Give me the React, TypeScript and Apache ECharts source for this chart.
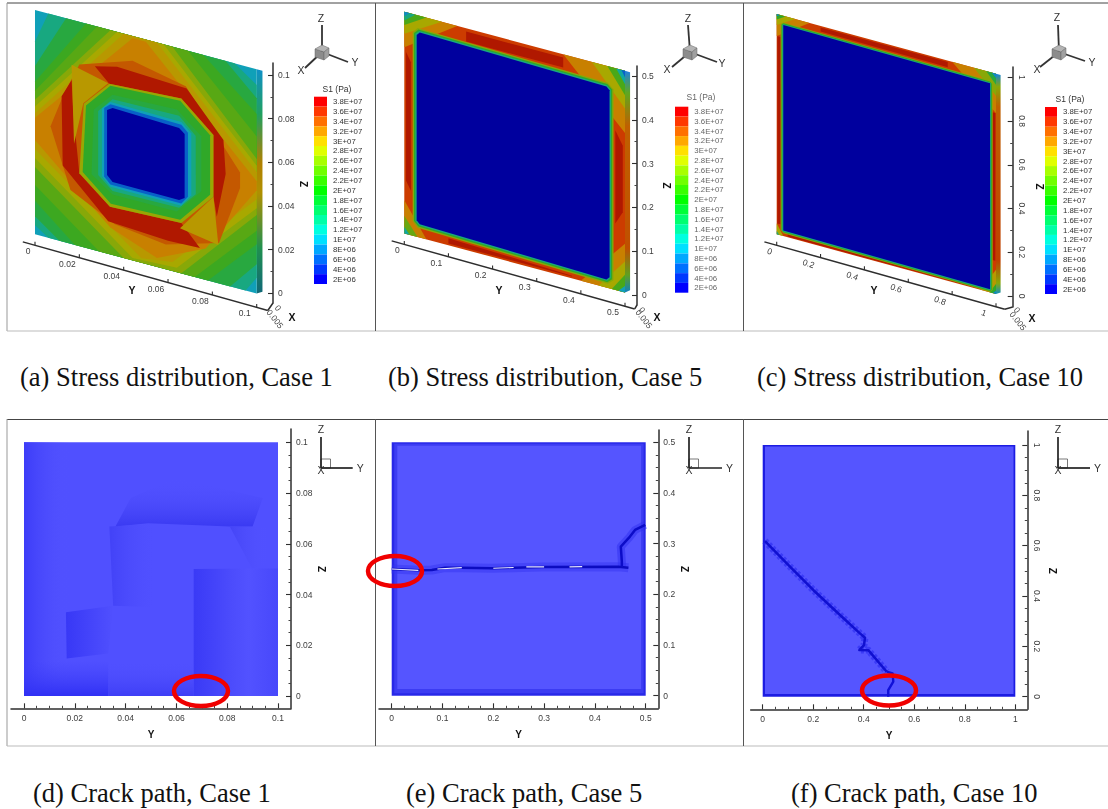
import React, { useEffect, useRef } from "react";
import * as echarts from "echarts";

type Pt = number[];
const SANS = "Liberation Sans";

// ---- S1 colour scale -------------------------------------------------------
const s1Levels = [38, 36, 34, 32, 30, 28, 26, 24, 22, 20, 18, 16, 14, 12, 10, 8, 6, 4, 2];
const s1Labels = ["3.8E+07", "3.6E+07", "3.4E+07", "3.2E+07", "3E+07", "2.8E+07", "2.6E+07", "2.4E+07", "2.2E+07", "2E+07", "1.8E+07", "1.6E+07", "1.4E+07", "1.2E+07", "1E+07", "8E+06", "6E+06", "4E+06", "2E+06"];
const legendColors = ["#ff0000", "#ff3800", "#ff7000", "#ffa800", "#ffe000", "#e0ff00", "#a8ff00", "#70ff00", "#38ff00", "#00ff00", "#00ff38", "#00ff70", "#00ffa8", "#00ffe0", "#00e0ff", "#00a8ff", "#0070ff", "#0038ff", "#0000ff"];
const plateShades: Record<number, string> = {
  2: "#00009e", 4: "#0030c0", 6: "#0860c8", 8: "#1088c8", 10: "#10a0b8", 12: "#10a8a0", 14: "#18a880", 16: "#20a860", 18: "#28a840", 20: "#30a828", 21: "#3ca820", 22: "#4aa818", 23: "#58a814", 24: "#68a810", 26: "#88a808", 27: "#98a804", 28: "#a8a800", 30: "#b89800", 32: "#c88000", 34: "#c86800", 35: "#c45800", 36: "#cc3c00", 38: "#b01800",
};

// ---- Panel (a) contour bands, Y and Z in metres, S1 in 1E6 Pa ---------------
const stressA = [10, 14, 18, 21, 23, 26, 28, 30, 32, 35, 38, 38, 30, 30, 27, 20, 18, 14, 10, 6, 2];
const bandsA: Pt[][] = [
  [[0, 0], [.1, 0], [.1, .1], [0, .1]],
  [[0, .086], [.006, .1], [.09, .1], [.1, .093], [.1, .007], [.095, 0], [.006, 0], [0, .004]],
  [[0, .075], [.014, .1], [.086, .1], [.1, .087], [.1, .013], [.088, 0], [.011, 0], [0, .008]],
  [[0, .068], [.023, .1], [.076, .1], [.1, .08], [.1, .022], [.078, 0], [.018, 0], [0, .015]],
  [[0, .064], [.028, .1], [.069, .1], [.1, .07], [.1, .028], [.072, 0], [.029, 0], [0, .022]],
  [[0, .06], [.034, .1], [.062, .1], [.1, .06], [.1, .035], [.066, 0], [.04, 0], [0, .03]],
  [[0, .057], [.037, .1], [.058, .1], [.1, .057], [.1, .038], [.064, .002], [.044, .001], [0, .034]],
  [[0, .054], [.04, .1], [.055, .1], [.1, .054], [.1, .042], [.062, .004], [.048, .002], [0, .038]],
  [[0, .052], [.044, .099], [.05, .099], [.1, .05], [.1, .046], [.077, .014], [.055, .004], [.034, .012], [0, .042]],
  [[.02, .081], [.044, .089], [.068, .084], [.0925, .052], [.0925, .045], [.083, .018], [.059, .011], [.036, .014], [.016, .024], [.007, .05], [.013, .066]],
  [[.027, .082], [.037, .0845], [.0684, .083], [.085, .0645], [.086, .0496], [.082, .0295], [.0805, .038], [.0805, .0655], [.066, .078], [.0335, .076]],
  [[.0165, .073], [.0173, .0585], [.02, .0325], [.0338, .0212], [.066, .0224], [.0744, .0135], [.06, .013], [.033, .0145], [.0125, .034], [.012, .0647]],
  [[.0165, .08], [.033, .076], [.0218, .0642], [.0176, .045]],
  [[.0654, .02], [.0805, .038], [.0827, .017]],
  [[.022, .064], [.0335, .076], [.066, .078], [.0805, .0655], [.0805, .038], [.066, .0224], [.0338, .0212], [.02, .0325]],
  [[.023, .0635], [.034, .0752], [.0655, .0768], [.079, .065], [.079, .0385], [.0655, .0238], [.0342, .0226], [.0215, .0335]],
  [[.0265, .0625], [.035, .0715], [.064, .0725], [.075, .0635], [.075, .039], [.064, .027], [.035, .027], [.0255, .0335]],
  [[.0285, .0625], [.035, .0695], [.065, .07], [.0725, .063], [.0725, .037], [.065, .029], [.035, .0285], [.0285, .034]],
  [[.0302, .064], [.034, .068], [.066, .0675], [.0705, .0635], [.0705, .036], [.066, .0302], [.034, .0302], [.0302, .034]],
  [[.0312, .0645], [.034, .067], [.066, .0663], [.069, .0635], [.069, .035], [.066, .0312], [.034, .0312], [.0312, .034]],
  [[.0325, .064], [.035, .0655], [.065, .0645], [.0675, .0625], [.0675, .034], [.065, .0325], [.035, .0325], [.0325, .035]],
];
const sideA: Pt[] = [[.1, .1], [.1026, .1], [.1026, .0015], [.1, 0]];

// ---- Panel (b) ----------------------------------------------------------------
const stressB = [36, 38, 38, 38, 38, 32, 28, 22, 14, 8, 32, 28, 22, 12, 6, 32, 28, 22, 10, 32, 24, 12, 26, 20, 14, 2];
const bandsB: Pt[][] = [
  [[0, 0], [.5, 0], [.5, .5], [0, .5]],
  [[.14, .4925], [.36, .4925], [.36, .47], [.14, .47]],
  [[.004, .41], [.015, .39], [.015, .1], [.004, .12]],
  [[.478, .36], [.495, .33], [.495, .18], [.478, .15]],
  [[.1, .004], [.38, .004], [.38, .006], [.1, .016]],
  [[0, .5], [.12, .5], [0, .42]],
  [[0, .5], [.085, .5], [0, .45]],
  [[0, .5], [.05, .5], [0, .47]],
  [[0, .5], [.025, .5], [0, .48]],
  [[0, .5], [.012, .5], [0, .49]],
  [[.5, .5], [.36, .5], [.5, .36]],
  [[.5, .5], [.425, .5], [.5, .415]],
  [[.5, .5], [.46, .5], [.5, .445]],
  [[.5, .5], [.48, .5], [.5, .47]],
  [[.5, .5], [.492, .5], [.5, .485]],
  [[.5, 0], [.4, 0], [.5, .11]],
  [[.5, 0], [.44, 0], [.5, .07]],
  [[.5, 0], [.47, 0], [.5, .04]],
  [[.5, 0], [.485, 0], [.5, .015]],
  [[0, 0], [.05, 0], [0, .075]],
  [[0, 0], [.03, 0], [0, .04]],
  [[0, 0], [.012, 0], [0, .015]],
  [[.019, .459], [.03, .4715], [.461, .4625], [.474, .451], [.474, .021], [.461, .0095], [.03, .021], [.019, .033]],
  [[.022, .458], [.032, .4685], [.46, .4595], [.471, .45], [.471, .022], [.46, .0125], [.032, .024], [.022, .034]],
  [[.025, .457], [.034, .4655], [.459, .4565], [.468, .449], [.468, .024], [.459, .0155], [.034, .027], [.025, .035]],
  [[.028, .455], [.035, .4625], [.458, .4535], [.465, .447], [.465, .025], [.458, .0185], [.035, .03], [.028, .037]],
];
const sideB: Pt[] = [[.5, .5], [.5115, .5], [.5115, .008], [.5, 0]];

// ---- Panel (c) ----------------------------------------------------------------
const stressC = [36, 38, 38, 38, 38, 32, 28, 20, 8, 32, 26, 18, 8, 30, 20, 8, 28, 14, 26, 20, 14, 2];
const bandsC: Pt[][] = [
  [[0, 0], [1, 0], [1, 1], [0, 1]],
  [[.2, .993], [.78, .993], [.78, .97], [.2, .975]],
  [[.003, .9], [.018, .9], [.018, .05], [.003, .05]],
  [[.983, .82], [.997, .82], [.997, .15], [.983, .15]],
  [[.05, .003], [.9, .003], [.9, .004], [.05, .016]],
  [[0, 1], [.15, 1], [0, .9]],
  [[0, 1], [.085, 1], [0, .95]],
  [[0, 1], [.04, 1], [0, .975]],
  [[0, 1], [.015, 1], [0, .99]],
  [[1, 1], [.8, 1], [1, .82]],
  [[1, 1], [.9, 1], [1, .9]],
  [[1, 1], [.955, 1], [1, .95]],
  [[1, 1], [.98, 1], [1, .98]],
  [[1, 0], [.93, 0], [1, .11]],
  [[1, 0], [.97, 0], [1, .045]],
  [[1, 0], [.985, 0], [1, .015]],
  [[0, 0], [.03, 0], [0, .05]],
  [[0, 0], [.012, 0], [0, .015]],
  [[.018, .958], [.03, .97], [.973, .961], [.985, .949], [.985, .014], [.973, .003], [.03, .013], [.018, .025]],
  [[.022, .958], [.03, .966], [.973, .957], [.981, .949], [.981, .014], [.973, .006], [.03, .017], [.022, .025]],
  [[.026, .958], [.03, .962], [.973, .953], [.977, .949], [.977, .014], [.973, .01], [.03, .021], [.026, .025]],
  [[.03, .958], [.973, .949], [.973, .014], [.03, .025]],
];
const sideC: Pt[] = [[1, 1], [1.021, 1], [1.021, .012], [1, 0]];

// ---- Axis ticks ---------------------------------------------------------------
const yTicksA = ["0", "0.02", "0.04", "0.06", "0.08", "0.1"];
const yTicksB = ["0", "0.1", "0.2", "0.3", "0.4", "0.5"];
const yTicksC = ["0", "0.2", "0.4", "0.6", "0.8", "1"];

// ---- Panel (d) damage field patches -------------------------------------------
const patchesD: Pt[][] = [
  [[0, 0], [.018, 0], [.018, .1], [0, .1]],
  [[0, 0], [.0332, 0], [.0332, .014], [0, .014]],
  [[.036, .0668], [.0489, .0681], [.081, .0668], [.09, .0668], [.094, .078], [.06, .086], [.042, .078]],
  [[.081, .0668], [.0898, .0503], [.096, .052], [.096, .0668]],
  [[.0336, .0668], [.052, .068], [.052, .035], [.0351, .0356]],
  [[.0668, .0501], [.0898, .0503], [.1, .0503], [.1, 0], [.0668, 0]],
  [[.0165, .033], [.0351, .0356], [.0332, .0168], [.0168, .0148]],
  [[.0332, 0], [.0668, 0], [.0668, .014], [.0332, .014]],
];
const patchDirD = [[0, 0, 1, 0], [0, 1, 0, 0], [0, 1, 0, 0], [0, 0, 1, 0], [0, 0, 1, 0], [0, 0, 1, 0], [0, 0, 1, 0], [0, 1, 0, 0]];
const patchStopsD = [
  [[0, "#3c3cf8"], [1, "rgba(84,84,255,0)"]],
  [[0, "#3030f4"], [1, "rgba(64,64,250,0)"]],
  [[0, "#3a3af2"], [1, "rgba(84,84,255,0)"]],
  [[0, "#4444f6"], [1, "rgba(84,84,255,0)"]],
  [[0, "#4242f7"], [1, "rgba(80,80,255,0)"]],
  [[0, "#3a3af6"], [.45, "#4c4cfc"], [.65, "#5252ff"], [1, "#4848fb"]],
  [[0, "#3838f6"], [1, "#5050fe"]],
  [[0, "#3e3ef6"], [1, "rgba(80,80,255,0)"]],
];

// ---- Panel (e) and (f) frames and cracks --------------------------------------
const frameE: Pt[][] = [
  [[0, 0], [.5, 0], [.5, .5], [0, .5]],
  [[.005, .005], [.496, .005], [.496, .497], [.005, .497]],
  [[.011, .013], [.491, .013], [.491, .493], [.011, .493]],
];
const frameF: Pt[][] = [
  [[0, 0], [1, 0], [1, 1], [0, 1]],
  [[.009, .011], [.993, .011], [.993, .994], [.009, .994]],
];
const frameShadesE = ["#2828e8", "#3c3cf2", "#5555ff"];
const frameShadesF = ["#1c1ce2", "#5555ff"];
const crackE: Pt[] = [[0, .25], [.0525, .2474], [.079, .248], [.105, .2526], [.138, .2526], [.197, .2513], [.295, .254], [.446, .2546], [.466, .2526]];
const branchE: Pt[] = [[.453, .2546], [.453, .2645], [.451, .294], [.469, .314], [.479, .327], [.499, .337]];
const openingsE: Pt[][] = [
  [[0, .25], [.0525, .2474]],
  [[.09, .25], [.138, .2526]],
  [[.2, .2515], [.24, .253]],
  [[.265, .254], [.3, .254]],
  [[.35, .254], [.375, .2545]],
];
const crackF: Pt[] = [[.009, .6185], [.108, .5166], [.2, .424], [.306, .3245], [.385, .2517], [.405, .2344], [.401, .205], [.3826, .1854], [.418, .185], [.491, .0993]];
const tailF: Pt[] = [[.491, .0993], [.5145, .0927], [.517, .06], [.497, .0265], [.497, 0]];

// ---- Captions -----------------------------------------------------------------
const captions = [
  "(a) Stress distribution, Case 1", "(b) Stress distribution, Case 5", "(c) Stress distribution, Case 10",
  "(d) Crack path, Case 1", "(e) Crack path, Case 5", "(f) Crack path, Case 10",
];

const grids: any[] = [];
const xAxes: any[] = [];
const yAxes: any[] = [];
const series: any[] = [];
const graphics: any[] = [];

function rectOf(l: number, t: number, r: number, b: number) {
  return { left: l, top: t, width: r - l, height: b - t, containLabel: false };
}
function hiddenAxis(min: number, max: number) {
  return { type: "value", show: false, min, max, axisLine: { show: false, onZero: false }, splitLine: { show: false } };
}
function addHiddenGrid(l: number, t: number, r: number, b: number, xMax: number, yMax: number) {
  grids.push(rectOf(l, t, r, b));
  const i = grids.length - 1;
  xAxes.push({ ...hiddenAxis(0, xMax), gridIndex: i });
  yAxes.push({ ...hiddenAxis(0, yMax), gridIndex: i });
  return i;
}
const lineStyle = { color: "#2e2e2e", width: 1.5 };

function addAxisLines(l: number, t: number, r: number, b: number, withX: boolean) {
  grids.push(rectOf(l, t, r, b));
  const i = grids.length - 1;
  const bare = { min: 0, max: 1, type: "value", gridIndex: i, axisTick: { show: false }, axisLabel: { show: false }, splitLine: { show: false } };
  xAxes.push({ ...bare, show: withX, position: "bottom", axisLine: { show: withX, onZero: false, lineStyle } });
  yAxes.push({ ...bare, show: true, position: "right", axisLine: { show: true, onZero: false, lineStyle } });
}

function tickedAxis(max: number, interval: number, split: number, rotate: number) {
  return {
    type: "value", min: 0, max, interval,
    axisLine: { show: false, onZero: false },
    axisTick: { show: true, inside: true, length: 5, lineStyle: { color: "#2e2e2e", width: 1.1 } },
    minorTick: { show: true, splitNumber: split, length: 2.5, lineStyle: { color: "#444", width: 1 } },
    splitLine: { show: false },
    minorSplitLine: { show: false },
    axisLabel: { color: "#3c3c3c", fontSize: 8.5, fontFamily: SANS, margin: 5, rotate, formatter: (v: number) => String(+v.toFixed(3)) },
    nameTextStyle: { color: "#111", fontSize: 10, fontWeight: "bold", fontFamily: SANS },
  };
}

function polySeries(gridIdx: number, polys: Pt[][], fill: (i: number) => any, project?: (api: any, p: Pt) => number[]) {
  series.push({
    type: "custom", coordinateSystem: "cartesian2d", xAxisIndex: gridIdx, yAxisIndex: gridIdx, silent: true, clip: false,
    data: polys.map((_, i) => [i]),
    renderItem: (params: any, api: any) => {
      const pts = polys[params.dataIndex].map((p) => (project ? project(api, p) : api.coord(p)));
      return { type: "polygon", shape: { points: pts }, style: { fill: fill(params.dataIndex) } };
    },
  });
}

function lineSeries(gridIdx: number, data: Pt[], color: string, width: number, opacity = 1, dash?: any) {
  series.push({
    type: "line", xAxisIndex: gridIdx, yAxisIndex: gridIdx, data, showSymbol: false, symbol: "none", silent: true,
    lineStyle: { color, width, opacity, type: dash || "solid", cap: "butt", join: "round" },
  });
}

function addLegend(l: number, t: number, r: number, b: number, titleX: number, titleY: number, labelColor: string) {
  grids.push(rectOf(l, t, r, b));
  const i = grids.length - 1;
  xAxes.push({ ...hiddenAxis(0, 1), gridIndex: i });
  yAxes.push({
    type: "category", gridIndex: i, position: "right", inverse: true, data: s1Labels,
    axisLine: { show: false, onZero: false }, axisTick: { show: false }, splitLine: { show: false },
    axisLabel: { interval: 0, color: labelColor, fontSize: 7.8, fontFamily: SANS, margin: 6 },
  });
  series.push({
    type: "bar", xAxisIndex: i, yAxisIndex: i, barWidth: "100%", silent: true,
    data: s1Levels.map((s, k) => ({ value: 1, name: String(s), itemStyle: { color: legendColors[k] } })),
  });
  graphics.push({ type: "text", x: titleX, y: titleY, style: { text: "S1 (Pa)", fill: labelColor, font: `8.5px "${SANS}"`, align: "center", verticalAlign: "middle" } });
}

function addTopPanel(cfg: any) {
  const { left, right, top, bottom, k, yMax, zMax, bands, stress, side, sideStops, yTicks, labelRot, axisX, axisY0, axisY1, axisTop, axisBot, interval, zRot, yStart, yEnd } = cfg;
  const g = addHiddenGrid(left, top, right, bottom, yMax, zMax);
  const project = (api: any, p: Pt) => {
    const c = api.coord(p);
    return [c[0], c[1] + k * (c[0] - left)];
  };
  polySeries(g, [side], () => new echarts.graphic.LinearGradient(0, 0, 0, 1, sideStops.map((s: any) => ({ offset: s[0], color: s[1] }))), project);
  polySeries(g, bands, (i) => plateShades[stress[i]], project);

  // sheared Y axis, drawn from its tick values
  const skew = (api: any, y: number, up: number) => {
    const c = api.coord([y, 0]);
    return [c[0], c[1] + 11 + 0.28 * (c[0] - left) - up];
  };
  series.push({
    type: "custom", coordinateSystem: "cartesian2d", xAxisIndex: g, yAxisIndex: g, silent: true, clip: false,
    data: yTicks.map((t: string) => [Number(t), 0]),
    renderItem: (params: any, api: any) => {
      const v = Number(yTicks[params.dataIndex]);
      const a = skew(api, v, 0);
      const b = skew(api, v, 3.5);
      const children: any[] = [
        { type: "line", shape: { x1: a[0], y1: a[1], x2: b[0], y2: b[1] }, style: { stroke: "#2e2e2e", lineWidth: 1.1 } },
        { type: "text", x: a[0] - (params.dataIndex === 0 ? 7 : 12), y: a[1] + 6, rotation: labelRot, style: { text: yTicks[params.dataIndex], fill: "#3c3c3c", font: `8.5px "${SANS}"`, align: "center", verticalAlign: "middle" } },
      ];
      if (params.dataIndex === 0) {
        const s = skew(api, yStart, 0);
        const e = skew(api, yEnd, 0);
        children.push({ type: "line", shape: { x1: s[0], y1: s[1], x2: e[0], y2: e[1] }, style: { stroke: "#2e2e2e", lineWidth: 1.5 } });
        children.push({ type: "line", shape: { x1: e[0], y1: e[1], x2: axisX, y2: axisBot }, style: { stroke: "#2e2e2e", lineWidth: 1.5 } });
      }
      return { type: "group", children };
    },
  });

  // Z axis
  addAxisLines(left, axisTop, axisX, axisBot, false);
  grids.push(rectOf(left, axisY1, axisX, axisY0));
  const z = grids.length - 1;
  xAxes.push({ ...hiddenAxis(0, 1), gridIndex: z });
  yAxes.push({ ...tickedAxis(zMax, interval, 2, zRot), gridIndex: z, position: "right", name: "Z", nameLocation: "middle", nameGap: cfg.zGap, nameRotate: -90 });
}

function addBottomPanel(cfg: any) {
  const { l, r, t, b, ol, ot, or, ob, max, interval, zRot } = cfg;
  grids.push(rectOf(l, t, r, b));
  const i = grids.length - 1;
  xAxes.push({ ...tickedAxis(max, interval, 4, 0), gridIndex: i, position: "bottom", offset: ob - b, name: "Y", nameLocation: "middle", nameGap: 21 });
  yAxes.push({ ...tickedAxis(max, interval, 4, zRot), gridIndex: i, position: "right", offset: or - r, name: "Z", nameLocation: "middle", nameGap: 20, nameRotate: -90 });
  addAxisLines(ol, ot, or, ob, true);
  return i;
}

function triad3D(cx: number, cy: number, z: number[], y: number[], x: number[], zL: number[], yL: number[], xL: number[]) {
  const ln = (a: number[]) => ({ type: "line", shape: { x1: cx, y1: cy, x2: a[0], y2: a[1] }, style: { stroke: "#333", lineWidth: 1.8 } });
  const tx = (s: string, p: number[]) => ({ type: "text", x: p[0], y: p[1], style: { text: s, fill: "#333", font: `10.5px "${SANS}"`, align: "center", verticalAlign: "middle" } });
  graphics.push(ln(z), ln(y), ln(x), tx("Z", zL), tx("Y", yL), tx("X", xL));
  const poly = (pts: number[][], fill: string) => ({ type: "polygon", shape: { points: pts.map((p) => [cx + p[0], cy + p[1]]) }, style: { fill, stroke: "#666", lineWidth: 0.5 } });
  graphics.push(
    poly([[-7, -3], [2, 0], [2, 8], [-7, 5]], "#8c8c8c"),
    poly([[-7, -3], [0, -7], [7, -4], [2, 0]], "#b4b4b4"),
    poly([[2, 0], [7, -4], [7, 4], [2, 8]], "#a0a0a0"),
  );
}

function triad2D(cx: number, cy: number, yEnd: number) {
  const ln = (x2: number, y2: number) => ({ type: "line", shape: { x1: cx, y1: cy, x2, y2 }, style: { stroke: "#222", lineWidth: 1.7 } });
  const tx = (s: string, x: number, y: number) => ({ type: "text", x, y, style: { text: s, fill: "#333", font: `10.5px "${SANS}"`, align: "center", verticalAlign: "middle" } });
  graphics.push(
    { type: "rect", shape: { x: cx, y: cy - 9, width: 9.5, height: 9 }, style: { fill: "#fff", stroke: "#555", lineWidth: 0.8 } },
    ln(cx, 437), ln(yEnd, cy), tx("Z", cx, 429), tx("Y", yEnd + 7.5, cy), tx("X", cx, cy + 2),
  );
}

function xStub(zero: number[], five: number[], x: number[], yTitle: number[]) {
  const t = (s: string, p: number[], font: string, rot: number, fill: string) => ({ type: "text", x: p[0], y: p[1], rotation: rot, style: { text: s, fill, font, align: "center", verticalAlign: "middle" } });
  graphics.push(
    t("0", zero, `8.5px "${SANS}"`, -0.9, "#3c3c3c"),
    t("0.005", five, `8.5px "${SANS}"`, -0.9, "#3c3c3c"),
    t("X", x, `bold 10.5px "${SANS}"`, 0, "#111"),
    t("Y", yTitle, `bold 10.5px "${SANS}"`, 0, "#111"),
  );
}

// ---- Build panels ---------------------------------------------------------------
addTopPanel({
  left: 35, right: 256.7, top: 10, bottom: 234.3, k: .267, yMax: .1, zMax: .1, bands: bandsA, stress: stressA, side: sideA,
  sideStops: [[0, "#1090c8"], [.2, "#20a060"], [.42, "#b08000"], [.55, "#b09000"], [.8, "#209050"], [1, "#106878"]],
  yTicks: yTicksA, labelRot: 0, axisX: 273, axisY0: 293.3, axisY1: 75, axisTop: 63, axisBot: 303, interval: .02, zRot: 0, yStart: -.0055, yEnd: .105, zGap: 23,
});
addLegend(314, 96.7, 327, 284, 337, 89, "#333");
triad3D(322, 52, [322, 25], [348, 62], [305, 68], [321, 18], [355, 62], [301, 70]);
xStub([278, 308], [275, 319], [292, 317], [132, 290]);

addTopPanel({
  left: 404.3, right: 625, top: 11.7, bottom: 233.4, k: .268, yMax: .5, zMax: .5, bands: bandsB, stress: stressB, side: sideB,
  sideStops: [[0, "#2080e0"], [.1, "#60a820"], [.25, "#c06000"], [.8, "#c05000"], [.92, "#60a020"], [1, "#1080c0"]],
  yTicks: yTicksB, labelRot: 0, axisX: 637, axisY0: 295, axisY1: 76, axisTop: 66, axisBot: 305, interval: .1, zRot: 0, yStart: -.0286, yEnd: .522, zGap: 24,
});
addLegend(675, 106.7, 688.3, 292.7, 701, 97, "#666");
triad3D(690, 52, [688, 25], [717, 62], [672, 67], [688, 18], [722, 63], [667, 69]);
xStub([642, 310], [644, 319], [657, 317], [499, 290]);

addTopPanel({
  left: 776.7, right: 996, top: 14, bottom: 234.3, k: .272, yMax: 1, zMax: 1, bands: bandsC, stress: stressC, side: sideC,
  sideStops: [[0, "#1080e0"], [.06, "#88a808"], [.15, "#c06000"], [.85, "#c04000"], [.95, "#88a808"], [1, "#1090c0"]],
  yTicks: yTicksC, labelRot: -.35, axisX: 1012.7, axisY0: 296, axisY1: 77.3, axisTop: 67, axisBot: 307, interval: .2, zRot: -90, yStart: -.056, yEnd: 1.04, zGap: 22,
});
addLegend(1045, 107, 1057, 294, 1070, 99, "#333");
triad3D(1059, 52, [1058, 25], [1085, 61], [1040, 67], [1057, 17], [1092, 62], [1037, 69]);
xStub([1017, 310], [1018, 321], [1032, 318], [874, 290]);

// (d)
{
  const i = addBottomPanel({ l: 24, r: 278, t: 442.3, b: 696, ol: 11, ot: 429, or: 291, ob: 708.3, max: .1, interval: .02, zRot: 0 });
  polySeries(i, [[[0, 0], [.1, 0], [.1, .1], [0, .1]]], () => "#5050ff");
  polySeries(i, patchesD, (k) => {
    const d = patchDirD[k];
    return new echarts.graphic.LinearGradient(d[0], d[1], d[2], d[3], patchStopsD[k].map((s: any) => ({ offset: s[0], color: s[1] })));
  });
}
// (e)
{
  const i = addBottomPanel({ l: 391.7, r: 645.7, t: 442.3, b: 695.7, ol: 379, ot: 430, or: 658.3, ob: 708.3, max: .5, interval: .1, zRot: 0 });
  polySeries(i, frameE, (k) => frameShadesE[k]);
  lineSeries(i, crackE, "#3434f0", 9, .45);
  lineSeries(i, branchE, "#3030f0", 8, .5);
  lineSeries(i, crackE, "#0c0cc0", 2.5);
  lineSeries(i, branchE, "#0c0cc8", 2.5);
  openingsE.forEach((o) => lineSeries(i, o, "#e8e8ff", 1.2));
}
// (f)
{
  const i = addBottomPanel({ l: 762.7, r: 1015.3, t: 445, b: 696.7, ol: 750.7, ot: 431, or: 1027.3, ob: 709.3, max: 1, interval: .2, zRot: -90 });
  polySeries(i, frameF, (k) => frameShadesF[k]);
  lineSeries(i, crackF, "#2a2af0", 7, .6, [3, 2]);
  lineSeries(i, crackF, "#1010d0", 2.5);
  lineSeries(i, tailF, "#1010d8", 2.4);
}
triad2D(321, 468, 352.7);
triad2D(689, 468, 722);
triad2D(1058, 468, 1090);

export default function App() {
  const under = useRef<HTMLDivElement>(null);
  const over = useRef<HTMLDivElement>(null);
  useEffect(() => {
    document.body.style.margin = "0";
    const a = echarts.init(under.current!, undefined, { renderer: "svg" });
    a.setOption({ animation: false, backgroundColor: "#fff", grid: grids, xAxis: xAxes, yAxis: yAxes, series, graphic: graphics });

    const serif = '"Liberation Serif"';
    const cap = (s: string, x: number, y: number) => ({ type: "text", x, y, style: { text: s, fill: "#111", font: `26.5px ${serif}`, align: "left", verticalAlign: "middle" } });
    const rule = (x1: number, y1: number, x2: number, y2: number, stroke: string, w: number) => ({ type: "line", shape: { x1, y1, x2, y2 }, style: { stroke, lineWidth: w } });
    const ring = (cx: number, cy: number) => ({ type: "ellipse", shape: { cx, cy, rx: 27, ry: 15 }, style: { fill: "none", stroke: "#f00000", lineWidth: 4.5 } });
    const b = echarts.init(over.current!, undefined, { renderer: "svg" });
    b.setOption({
      animation: false,
      graphic: [
        rule(7, 3, 1108, 3, "#444", 1), rule(7, 3, 7, 331, "#999", 1), rule(7, 331, 1108, 331, "#bbb", 1),
        rule(375.5, 3, 375.5, 331, "#555", 1), rule(743.5, 3, 743.5, 331, "#555", 1),
        rule(7, 419.5, 1108, 419.5, "#444", 1), rule(7, 419, 7, 746, "#999", 1), rule(7, 746, 1108, 746, "#bbb", 1),
        rule(375.5, 419, 375.5, 746, "#555", 1), rule(743.5, 419, 743.5, 746, "#555", 1),
        ring(201, 691), ring(395, 571), ring(889, 690.5),
        cap(captions[0], 20, 377), cap(captions[1], 388, 377), cap(captions[2], 757, 377),
        cap(captions[3], 33, 793), cap(captions[4], 406, 793), cap(captions[5], 791, 793),
      ],
    });
    return () => { a.dispose(); b.dispose(); };
  }, []);
  return (
    <div style={{ position: "absolute", left: 0, top: 0, width: 1108, height: 809, overflow: "hidden", background: "#fff" }}>
      <div ref={under} style={{ position: "absolute", left: 0, top: 0, width: 1108, height: 809, filter: "blur(0.7px)" }} />
      <div ref={over} style={{ position: "absolute", left: 0, top: 0, width: 1108, height: 809 }} />
    </div>
  );
}
